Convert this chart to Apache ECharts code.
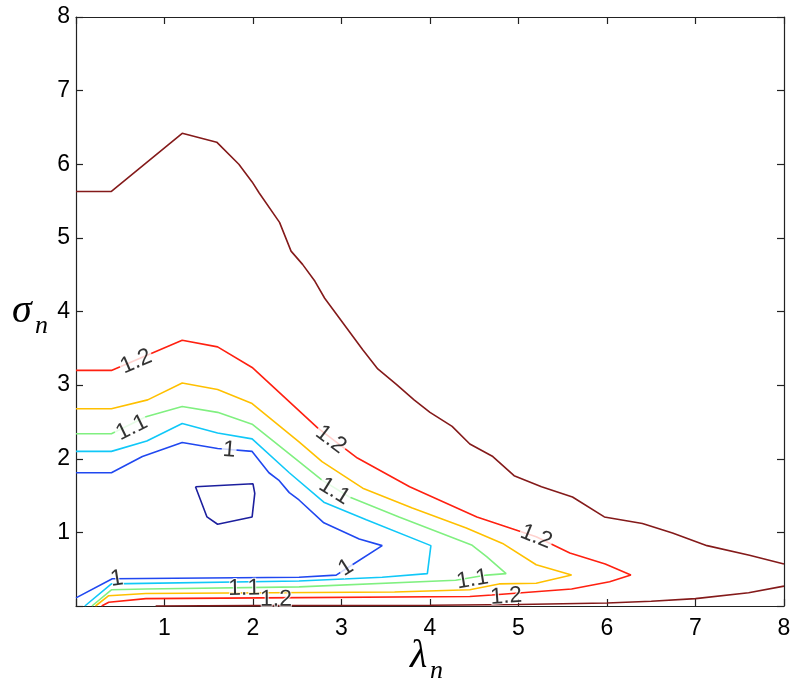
<!DOCTYPE html>
<html>
<head>
<meta charset="utf-8">
<script src="https://cdn.jsdelivr.net/npm/echarts/dist/echarts.min.js"></script>
<style>
html,body{margin:0;padding:0;background:#fff;}
#c{width:800px;height:687px;}
</style>
</head>
<body>
<div id="c"></div>
<script>
// ---- tick values ----
const xTickValues = [0, 1, 2, 3, 4, 5, 6, 7, 8];
const yTickValues = [0, 1, 2, 3, 4, 5, 6, 7, 8];

// ---- contour lines (x = lambda_n, y = sigma_n) ----
const contourNavy = [[1.35,1.62],[2.00,1.66],[2.02,1.53],[1.99,1.21],[1.60,1.11],[1.48,1.21],[1.35,1.62]];
const contourBlue = [[0,1.81],[0.40,1.81],[0.75,2.03],[1.20,2.22],[1.60,2.14],[1.99,2.10],[2.18,1.81],[2.29,1.71],[2.41,1.54],[2.52,1.44],[2.80,1.13],[3.20,0.91],[3.46,0.82],[3.07,0.52],[2.94,0.42],[2.52,0.39],[0.41,0.37],[0,0.11]];
const contourCyan = [[0,2.10],[0.40,2.10],[0.80,2.24],[1.20,2.48],[1.60,2.35],[1.99,2.27],[2.41,1.81],[2.80,1.41],[3.28,1.17],[4.01,0.82],[3.97,0.44],[3.46,0.39],[2.52,0.34],[0.40,0.30],[0.10,0]];
const contourGreen = [[0,2.34],[0.40,2.34],[0.79,2.57],[1.20,2.71],[1.60,2.63],[1.99,2.47],[2.52,1.96],[2.78,1.71],[3.09,1.48],[3.65,1.21],[4.47,0.83],[4.64,0.67],[4.86,0.44],[4.64,0.42],[4.29,0.35],[2.52,0.26],[0.79,0.23],[0.40,0.22],[0.18,0]];
const contourYellow = [[0,2.68],[0.40,2.68],[0.81,2.80],[1.20,3.03],[1.60,2.94],[1.99,2.75],[2.52,2.23],[2.78,1.96],[3.24,1.60],[3.80,1.33],[4.41,1.06],[4.82,0.85],[5.20,0.56],[5.60,0.42],[5.20,0.31],[4.78,0.30],[4.45,0.22],[3.60,0.19],[0.79,0.17],[0.37,0.14],[0.22,0]];
const contourRed = [[0,3.20],[0.40,3.20],[1.20,3.61],[1.60,3.52],[1.99,3.24],[2.73,2.42],[3.18,2.01],[3.77,1.62],[4.53,1.21],[5.20,0.94],[5.58,0.72],[5.98,0.57],[6.27,0.42],[6.03,0.33],[5.60,0.23],[5.04,0.18],[4.70,0.15],[4.45,0.13],[2.10,0.11],[0.79,0.10],[0.37,0.05],[0.29,0]];
const contourMaroonTop = [[0,5.63],[0.40,5.63],[1.20,6.42],[1.59,6.30],[1.84,6.00],[1.99,5.76],[2.07,5.61],[2.30,5.21],[2.43,4.82],[2.56,4.64],[2.70,4.41],[2.81,4.18],[3.24,3.48],[3.41,3.22],[3.62,3.01],[3.82,2.80],[4.00,2.63],[4.25,2.44],[4.45,2.20],[4.71,2.03],[4.95,1.77],[5.26,1.62],[5.61,1.48],[5.97,1.21],[6.40,1.12],[6.74,0.99],[7.13,0.82],[7.61,0.69],[8.00,0.57]];
const contourMaroonBottom = [[0.90,0],[2.00,0.005],[4.00,0.01],[5.00,0.02],[6.00,0.04],[6.50,0.065],[7.00,0.10],[7.60,0.18],[8.00,0.27]];

// ---- contour labels: [text, x, y, contour key] ----
const labelsGapped = [
  ['1.2', 0.68, 3.32, 'red'],
  ['1.1', 0.63, 2.42, 'green'],
  ['1',   1.73, 2.12, 'blue'],
  ['1.2', 2.88, 2.26, 'red'],
  ['1.1', 2.92, 1.56, 'green'],
  ['1.2', 5.20, 0.94, 'red'],
  ['1',   3.05, 0.52, 'blue']
];
const labelsInline = [
  ['1.1', 4.48, 0.36, 'green'],
  ['1.2', 4.86, 0.13, 'red'],
  ['1.1', 1.90, 0.24, 'green'],
  ['1.2', 2.26, 0.09, 'red'],
  ['1',   0.46, 0.37, 'blue']
];

const contourDefs = [
  {key:'navy',   color:'#1c1f9e', data:contourNavy},
  {key:'blue',   color:'#2048f0', data:contourBlue},
  {key:'cyan',   color:'#10c8f8', data:contourCyan},
  {key:'green',  color:'#80f080', data:contourGreen},
  {key:'yellow', color:'#ffc000', data:contourYellow},
  {key:'red',    color:'#ff2010', data:contourRed},
  {key:'maroon', color:'#841a1a', data:contourMaroonTop},
  {key:'maroon2',color:'#841a1a', data:contourMaroonBottom}
];

const chart = echarts.init(document.getElementById('c'), null, {renderer:'canvas'});

const axisLineStyle = {color:'#222', width:1.2};
function hideZero(v){ return v === 0 ? '' : String(v); }

const baseOption = {
  animation:false,
  backgroundColor:'#fff',
  grid:{left:76, right:16, top:17, bottom:81, containLabel:false},
  xAxis:[
    {type:'value', min:xTickValues[0], max:xTickValues[xTickValues.length-1], interval:1, position:'bottom',
     axisLine:{show:true, onZero:false, lineStyle:axisLineStyle},
     axisTick:{show:true, inside:true, length:7, lineStyle:axisLineStyle},
     axisLabel:{show:true, formatter:hideZero, fontFamily:'Liberation Sans', fontSize:23, color:'#000', margin:11},
     splitLine:{show:false}},
    {type:'value', min:xTickValues[0], max:xTickValues[xTickValues.length-1], interval:1, position:'top',
     axisLine:{show:true, onZero:false, lineStyle:axisLineStyle},
     axisTick:{show:true, inside:true, length:7, lineStyle:axisLineStyle},
     axisLabel:{show:false}, splitLine:{show:false}}
  ],
  yAxis:[
    {type:'value', min:yTickValues[0], max:yTickValues[yTickValues.length-1], interval:1, position:'left',
     axisLine:{show:true, onZero:false, lineStyle:axisLineStyle},
     axisTick:{show:true, inside:true, length:7, lineStyle:axisLineStyle},
     axisLabel:{show:true, formatter:hideZero, fontFamily:'Liberation Sans', fontSize:23, color:'#000', margin:6},
     splitLine:{show:false}},
    {type:'value', min:yTickValues[0], max:yTickValues[yTickValues.length-1], interval:1, position:'right',
     axisLine:{show:true, onZero:false, lineStyle:axisLineStyle},
     axisTick:{show:true, inside:true, length:7, lineStyle:axisLineStyle},
     axisLabel:{show:false}, splitLine:{show:false}}
  ],
  graphic:[
    {type:'text', left:12, top:291, style:{text:'σ', font:'italic 40px "Liberation Serif"', fill:'#000'}},
    {type:'text', left:35, top:313, style:{text:'n', font:'italic 26px "Liberation Serif"', fill:'#000'}},
    {type:'text', left:410, top:636, style:{text:'λ', font:'italic 40px "Liberation Serif"', fill:'#000'}},
    {type:'text', left:430, top:658, style:{text:'n', font:'italic 26px "Liberation Serif"', fill:'#000'}}
  ],
  series: contourDefs.map(c => ({
    type:'line', name:c.key, data:c.data, showSymbol:false, symbol:'none',
    lineStyle:{color:c.color, width:1.6}, silent:true, z:2, clip:true
  }))
};
chart.setOption(baseOption);

// compute label rotation from contour direction in pixel space
function angleFor(lbl){
  const def = contourDefs.find(d => d.key === lbl[3]);
  const pts = def.data.map(p => chart.convertToPixel({xAxisIndex:0, yAxisIndex:0}, p));
  const c = chart.convertToPixel({xAxisIndex:0, yAxisIndex:0}, [lbl[1], lbl[2]]);
  const cum = [0];
  for (let i=1;i<pts.length;i++){ cum.push(cum[i-1] + Math.hypot(pts[i][0]-pts[i-1][0], pts[i][1]-pts[i-1][1])); }
  let best = 1e9, bestS = 0;
  for (let i=1;i<pts.length;i++){
    const ax=pts[i-1][0], ay=pts[i-1][1], bx=pts[i][0], by=pts[i][1];
    const dx=bx-ax, dy=by-ay, L2=dx*dx+dy*dy;
    let t = L2>0 ? ((c[0]-ax)*dx+(c[1]-ay)*dy)/L2 : 0;
    t = Math.max(0, Math.min(1, t));
    const px=ax+t*dx, py=ay+t*dy;
    const d=Math.hypot(c[0]-px, c[1]-py);
    if (d<best){ best=d; bestS=cum[i-1]+t*Math.sqrt(L2); }
  }
  function at(s){
    s = Math.max(0, Math.min(cum[cum.length-1], s));
    for (let i=1;i<pts.length;i++){
      if (s<=cum[i] || i===pts.length-1){
        const seg = cum[i]-cum[i-1];
        const t = seg>0 ? (s-cum[i-1])/seg : 0;
        return [pts[i-1][0]+t*(pts[i][0]-pts[i-1][0]), pts[i-1][1]+t*(pts[i][1]-pts[i-1][1])];
      }
    }
  }
  const p1 = at(bestS-12), p2 = at(bestS+12);
  let a = -Math.atan2(p2[1]-p1[1], p2[0]-p1[0]) * 180 / Math.PI;
  while (a > 90) a -= 180;
  while (a < -90) a += 180;
  return a;
}

function makeLabelData(list){
  return list.map(l => ({name:l[0], value:[l[1], l[2]], label:{rotate:angleFor(l)}}));
}

const labelFont = {fontFamily:'Liberation Sans', fontSize:23, color:'#000'};
chart.setOption({
  series: baseOption.series.concat([
    {type:'scatter', name:'labelsGapped', data:makeLabelData(labelsGapped), symbolSize:0, silent:true, z:5, clip:false,
     label:Object.assign({show:true, position:'inside', formatter:'{b}', backgroundColor:'#fff', padding:[0,1], lineHeight:17}, labelFont)},
    {type:'scatter', name:'labelsInline', data:makeLabelData(labelsInline), symbolSize:0, silent:true, z:5, clip:false,
     label:Object.assign({show:true, position:'inside', formatter:'{b}', textBorderColor:'#fff', textBorderWidth:2}, labelFont)}
  ])
});
</script>
</body>
</html>
